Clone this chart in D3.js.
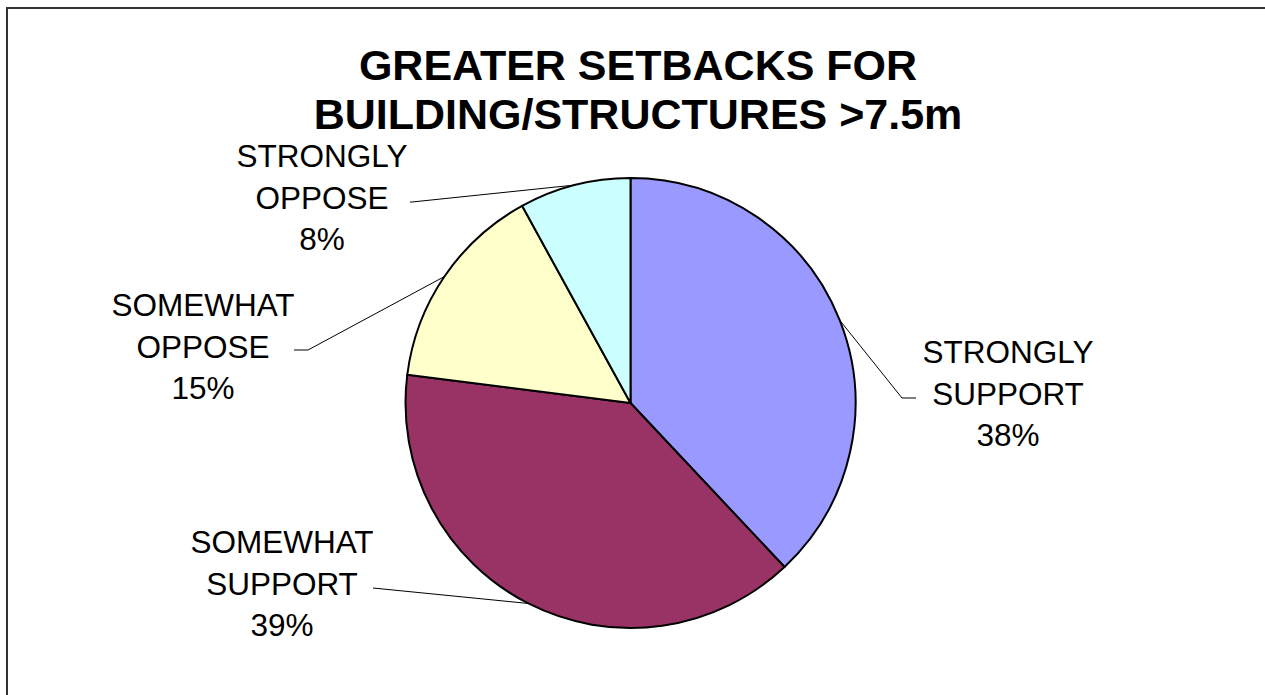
<!DOCTYPE html>
<html>
<head>
<meta charset="utf-8">
<script src="https://cdn.jsdelivr.net/npm/d3@7"></script>
<style>
  body { margin: 0; background: #fff; overflow: hidden; }
  svg text { font-family: "Liberation Sans", Arial, sans-serif; fill: #000; }
</style>
</head>
<body>
<svg id="chart" width="1265" height="695"></svg>
<script>
// data
const categories = ['STRONGLY SUPPORT', 'SOMEWHAT SUPPORT', 'SOMEWHAT OPPOSE', 'STRONGLY OPPOSE']
const values = [38, 39, 15, 8]
const colors = ['#9999FF', '#993366', '#FFFFCC', '#CCFFFF']
const titleLines = ['GREATER SETBACKS FOR', 'BUILDING/STRUCTURES >7.5m']

// label layout: text centre x, first baseline y, elbow of the leader
const labelPos = [
  {x: 1008, y: 363, elbow: [902, 398], end: [916, 398]},
  {x: 282, y: 553, elbow: [373, 588], end: [373, 588]},
  {x: 203, y: 316, elbow: [308, 350], end: [294, 350]},
  {x: 322, y: 167, elbow: [412, 202], end: [410, 202]}
]

let svg = d3.select('#chart')
let cx = 630.5, cy = 403, r = 225

// frame (runs off right/bottom of the view)
svg.append('rect')
    .attr('x', 7).attr('y', 8)
    .attr('width', 1300).attr('height', 720)
    .attr('fill', 'none')
    .attr('stroke', '#333')
    .attr('stroke-width', 2)

let title = svg.append('text')
    .attr('text-anchor', 'middle')
    .style('font-weight', 'bold')
    .style('font-size', '43px')
title.selectAll('tspan')
    .data(titleLines)
  .enter().append('tspan')
    .attr('x', 638)
    .attr('y', (d, i) => 80 + i * 49)
    .text(d => d)

let pie = d3.pie().sort(null).value(d => d)
let arcs = pie(values)
let arc = d3.arc().innerRadius(0).outerRadius(r)
let edge = d3.arc().innerRadius(r).outerRadius(r)

let g = svg.append('g')
    .attr('transform', 'translate(' + cx + ',' + cy + ')')

g.selectAll('path.slice')
    .data(arcs)
  .enter().append('path')
    .attr('class', 'slice')
    .attr('d', arc)
    .attr('fill', (d, i) => colors[i])
    .attr('stroke', '#000')
    .attr('stroke-width', 2)
    .attr('stroke-linejoin', 'round')

// leader lines from arc midpoint to label
svg.selectAll('polyline.leader')
    .data(arcs)
  .enter().append('polyline')
    .attr('class', 'leader')
    .attr('points', (d, i) => {
      let c = edge.centroid(d)
      let p = labelPos[i]
      return [[cx + c[0], cy + c[1]], p.elbow, p.end].map(q => q.join(',')).join(' ')
    })
    .attr('fill', 'none')
    .attr('stroke', '#000')
    .attr('stroke-width', 1)

svg.selectAll('text.label')
    .data(arcs)
  .enter().append('text')
    .attr('class', 'label')
    .attr('text-anchor', 'middle')
    .style('font-size', '31.5px')
    .each(function (d, i) {
      let words = categories[i].split(' ')
      let lines = [words[0], words[1], values[i] + '%']
      d3.select(this).selectAll('tspan')
          .data(lines)
        .enter().append('tspan')
          .attr('x', labelPos[i].x)
          .attr('y', (t, j) => labelPos[i].y + j * 41.5)
          .text(t => t)
    })
</script>
</body>
</html>
